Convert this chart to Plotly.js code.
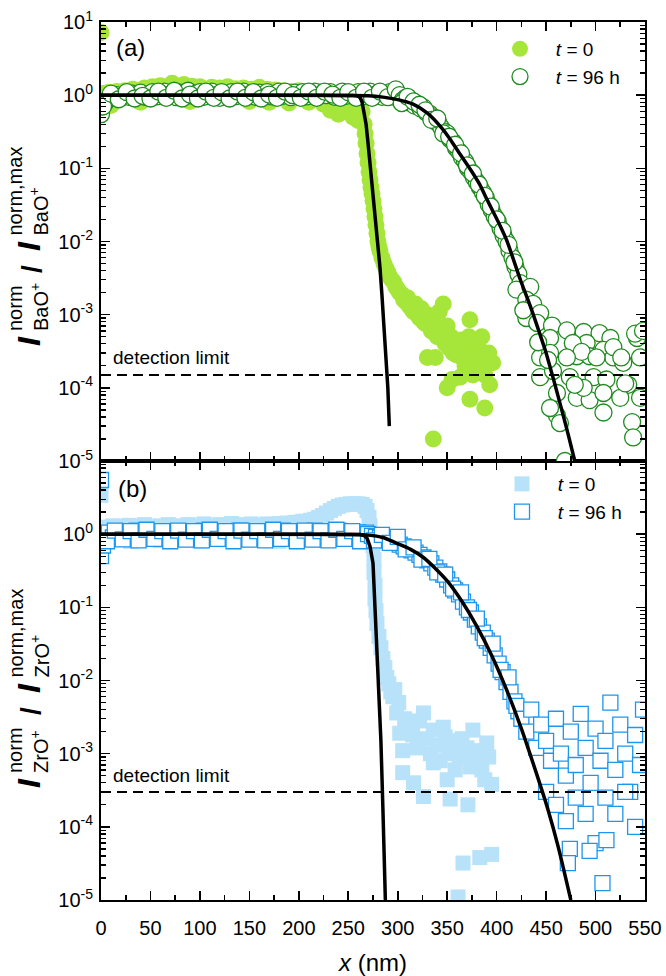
<!DOCTYPE html>
<html><head><meta charset="utf-8">
<script src="https://cdn.plot.ly/plotly-3.0.1.min.js"></script>
<style>html,body{margin:0;padding:0;background:#fff;} #chart{width:666px;height:976px;}</style>
</head><body><div id="chart"></div>
<script>
// ---------------- DATA ----------------
const xTickVals = [0,50,100,150,200,250,300,350,400,450,500,550];
const xTickText = ['0','50','100','150','200','250','300','350','400','450','500','550'];
const yTickValsTop = [1e-5,1e-4,1e-3,1e-2,1e-1,1e0,1e1];
const yTickTextTop = ['10<sup>-5</sup>','10<sup>-4</sup>','10<sup>-3</sup>','10<sup>-2</sup>','10<sup>-1</sup>','10<sup>0</sup>','10<sup>1</sup>'];
const yTickValsBot = [1e-5,1e-4,1e-3,1e-2,1e-1,1e0];
const yTickTextBot = ['10<sup>-5</sup>','10<sup>-4</sup>','10<sup>-3</sup>','10<sup>-2</sup>','10<sup>-1</sup>','10<sup>0</sup>'];

const detLimitA = 1.5e-4;
const detLimitB = 3.0e-4;

// (a) BaO+, t = 0  (filled green circles)
const aT0x = [0,2,5,8,12,16,20,24,28,32,36,40,44,48,52,56,60,64,68,72,76,80,84,88,92,96,100,104,108,112,116,120,124,128,132,136,140,144,148,152,156,160,164,168,172,176,180,184,188,192,196,200,204,208,212,216,220,224,228,232,236,240,244,248,252,256,260,
 10,40,90,150,170,190,210,225,232,240,248,255,260,
 262,264,266,267,268,269,270,271,272,273,274,275,276,277,278,279,280,281,282,284,286,288,
 290,292,294,296,298,300,302,304,306,308,310,312,314,316,318,320,322,324,326,328,330,332,334,336,338,340,342,344,346,348,350,352,354,356,358,360,362,364,366,368,370,372,374,376,378,380,382,384,388,392,396,
 330,338,350,355,363,373,376,388,393,388,336,346,373,385];
const aT0y = [7.2,1.05,0.95,1.1,1.0,1.12,1.05,1.15,1.08,1.2,1.1,1.18,1.25,1.12,1.3,1.2,1.35,1.22,1.28,1.45,1.3,1.2,1.4,1.25,1.32,1.18,1.3,1.22,1.15,1.28,1.2,1.25,1.12,1.3,1.18,1.22,1.15,1.25,1.1,1.2,1.15,1.28,1.12,1.2,1.08,1.18,1.1,1.15,1.05,1.12,1.08,1.15,1.05,1.1,1.02,1.08,1.12,1.0,1.05,1.1,1.0,1.05,0.98,1.02,0.92,0.85,0.75,
 0.72,0.8,0.82,0.82,0.8,0.78,0.8,0.75,0.62,0.55,0.6,0.5,0.45,
 0.75,0.6,0.4,0.3,0.22,0.16,0.12,0.09,0.07,0.055,0.045,0.036,0.028,0.022,0.017,0.013,0.01,0.0085,0.0075,0.006,0.005,0.0043,
 0.0038,0.0033,0.003,0.0028,0.0024,0.0022,0.002,0.0019,0.0016,0.0015,0.0017,0.0013,0.0012,0.0011,0.0014,0.001,0.0009,0.0012,0.0008,0.00075,0.001,0.0007,0.0006,0.0009,0.00055,0.0005,0.0011,0.0006,0.00045,0.0004,0.0007,0.00035,0.0005,0.0003,0.0004,0.00028,0.0003,0.00045,0.00025,0.0002,0.00035,0.0005,0.0003,0.00022,0.00028,0.0002,0.00035,0.00025,0.0002,0.0003,0.00022,0.00026,
 0.00026,0.0001,0.00013,0.00014,0.00007,0.00015,0.00015,0.00011,0.000053,0.00002,0.0014,0.00085,0.0005,0.00033];

// (a) BaO+, t = 96 h (open dark-green circles)
const aT96x = [0,4,8,12,16,20,24,28,32,36,40,44,48,52,56,60,64,68,72,76,80,84,88,92,96,100,104,108,112,116,120,124,128,132,136,140,144,148,152,156,160,164,168,172,176,180,184,188,192,196,200,204,208,212,216,220,224,228,232,236,240,244,248,252,256,260,264,268,272,276,280,284,288,292,296,300,
 2,10,18,26,34,42,50,58,66,74,82,90,98,106,114,122,130,138,146,154,162,170,178,186,194,202,210,218,226,234,242,250,258,266,274,282,290,298,
 302,305,308,311,314,317,320,323,326,329,332,335,338,341,344,347,350,353,356,359,362,365,368,371,374,377,380,383,386,389,392,395,398,401,404,407,410,413,416,419,422,
 304,310,316,322,328,334,340,346,352,358,364,370,376,382,388,394,400,406,412,418,
 424,420,434,430,437,444,430,441,456,454,471,488,504,515,491,542,545,444,454,477,481,494,508,518,528,444,457,474,498,511,533,545,461,481,494,508,525,508,461,464,537,538,469,452,442,427,
 540,548,477,486,501,518,526,530,488,454,479,471];
const aT96y = [0.55,0.78,0.9,0.95,1.0,0.92,1.02,0.95,1.05,0.98,1.08,0.95,1.02,1.1,0.96,1.04,1.12,1.0,1.06,0.94,1.08,1.0,1.15,0.98,1.05,1.1,0.95,1.04,1.12,1.0,0.92,1.06,1.0,1.1,0.97,1.04,1.12,0.98,1.06,0.95,1.08,1.02,1.1,0.96,1.04,1.12,0.98,1.05,0.94,1.08,1.0,1.1,0.96,1.04,1.12,0.98,1.06,1.0,1.1,0.95,1.04,1.12,0.98,1.06,1.0,1.1,0.96,1.04,1.12,0.98,1.06,0.95,1.04,1.1,0.95,1.05,
 0.7,1.05,0.88,1.1,0.9,0.98,0.9,1.12,0.92,1.15,0.9,1.02,0.9,1.12,0.92,1.1,0.9,1.12,0.92,1.1,0.9,1.02,0.92,1.12,1.0,0.92,1.12,0.92,1.12,1.02,0.92,1.1,0.92,1.12,0.92,1.12,0.94,1.2,
 1.0,0.85,0.92,0.8,0.85,0.72,0.76,0.66,0.68,0.58,0.56,0.5,0.44,0.42,0.36,0.32,0.3,0.25,0.23,0.19,0.17,0.14,0.125,0.1,0.09,0.075,0.065,0.055,0.047,0.04,0.032,0.027,0.022,0.019,0.015,0.012,0.01,0.0075,0.006,0.0045,0.0036,
 0.78,0.95,0.82,0.74,0.62,0.46,0.48,0.3,0.27,0.21,0.16,0.11,0.085,0.06,0.042,0.03,0.02,0.014,0.009,0.0052,
 0.0027,0.0022,0.0024,0.0016,0.0014,0.00105,0.0009,0.00077,0.00071,0.00048,0.00061,0.00058,0.00056,0.00048,0.00041,0.00048,0.00026,0.00026,0.0003,0.00028,0.00027,0.00027,0.00033,0.00026,0.00022,0.00014,0.00017,0.00014,0.00014,0.00013,0.00011,0.000073,0.000085,0.000073,0.000068,0.000085,0.000073,0.000046,0.000042,0.000033,0.000034,0.000021,0.00001,0.00024,0.00042,0.00115,
 0.00055,0.0006,0.00041,0.00031,0.00026,0.00036,0.00026,0.000115,0.0001,0.000053,0.00011,0.00026];

// (a) fit curves (black)
const aFit0x = [0,100,200,240,255,260,262,264,266,268,270,272,274,276,278,280,282,284,286,288,290,291.5];
const aFit0y = [1,1,1,1,0.99,0.97,0.93,0.8,0.6,0.4,0.22,0.12,0.065,0.035,0.018,0.009,0.0045,0.0019,0.0008,0.00032,0.0001,0.00003];
const aFit96x = [0,100,200,250,270,285,300,315,330,345,353,360,375,383,390,403,410,424,435,444,450,459,465,472,479];
const aFit96y = [1,1,1,0.99,0.98,0.94,0.87,0.76,0.57,0.35,0.25,0.18,0.09,0.06,0.038,0.017,0.0105,0.003,0.0012,0.00053,0.0003,0.00011,0.000055,0.000024,0.00001];

// (b) ZrO+, t = 0 (filled light-blue squares)
const bT0x = [0,2,4,8,12,16,20,24,28,32,36,40,44,48,52,56,60,64,68,72,76,80,84,88,92,96,100,104,108,112,116,120,124,128,132,136,140,144,148,152,156,160,164,168,172,176,180,184,188,192,196,
 200,204,208,212,216,220,224,228,232,236,240,244,248,252,256,260,264,267,269,271,
 5,30,60,100,140,180,220,250,262,
 272,274,275,276,276,277,277,278,279,281,283,285,287,289,291,293,295,
 297,299,302,305,305,316,326,326,336,346,336,350,353,360,370,376,373,371,390,388,366,383,395,361,
 310,315,320,322,330,333,340,343,348,352,355,358,362,365,368,378,382,385,392,395,301,307];
const bT0y = [3.4,1.1,1.25,1.2,1.3,1.15,1.28,1.2,1.32,1.18,1.3,1.22,1.35,1.2,1.28,1.15,1.3,1.22,1.35,1.25,1.3,1.18,1.28,1.35,1.2,1.3,1.25,1.38,1.22,1.3,1.2,1.35,1.25,1.3,1.4,1.28,1.35,1.22,1.3,1.38,1.25,1.32,1.28,1.38,1.3,1.35,1.4,1.32,1.42,1.38,1.45,
 1.45,1.5,1.5,1.55,1.6,1.7,1.8,1.95,2.1,2.25,2.4,2.5,2.55,2.6,2.6,2.6,2.55,2.4,2.1,1.7,
 0.85,0.8,0.82,0.8,0.82,0.8,0.82,0.85,0.9,
 1.3,1.0,0.7,0.45,0.3,0.2,0.13,0.09,0.06,0.04,0.028,0.02,0.015,0.011,0.009,0.007,0.006,
 0.0075,0.0036,0.0019,0.0011,0.00055,0.0004,0.00026,0.0036,0.0021,0.0023,0.00075,0.00044,0.00024,0.0015,0.0012,0.0021,0.00066,0.0002,0.0014,0.00044,0.000032,0.000038,0.000042,0.000011,
 0.0025,0.0018,0.0012,0.0028,0.0016,0.001,0.0013,0.0008,0.0017,0.001,0.0013,0.0006,0.0009,0.0016,0.001,0.0009,0.0011,0.0006,0.0009,0.00038,0.005,0.003];

// (b) ZrO+, t = 96 h (open blue squares)
const bT96x = [0,0,2,4,8,12,16,20,24,28,32,36,40,44,48,52,56,60,64,68,72,76,80,84,88,92,96,100,104,108,112,116,120,124,128,132,136,140,144,148,152,156,160,164,168,172,176,180,184,188,192,196,200,204,208,212,216,220,224,228,232,236,240,244,248,252,256,260,264,268,
 6,14,22,30,38,46,54,62,70,78,86,94,102,110,118,126,134,142,150,158,166,174,182,190,198,206,214,222,230,238,246,254,262,270,
 274,278,282,286,290,294,298,302,306,310,314,318,322,326,330,334,338,342,346,350,354,358,362,366,370,374,378,382,386,390,394,398,402,406,410,414,418,422,
 276,284,292,300,308,316,324,332,340,348,356,364,372,380,388,396,404,412,420,
 425,430,435,440,445,450,455,460,465,470,475,480,485,490,495,500,505,510,515,520,525,530,535,540,545,548,450,460,470,480,490,500,510,520,530,540,474,472,494,507,511];
const bT96y = [5.5,0.5,0.7,0.95,1.05,0.9,1.1,1.0,0.88,1.08,0.97,1.12,0.92,1.02,0.86,1.06,0.98,1.1,0.9,1.04,0.95,1.08,0.88,1.1,1.0,0.92,1.06,0.97,1.12,0.9,1.04,0.96,1.1,0.88,1.02,1.08,0.94,1.12,0.98,0.9,1.06,1.0,1.1,0.92,1.04,0.88,1.08,0.98,1.12,0.94,1.02,0.9,1.1,0.96,1.06,0.9,1.12,1.0,0.94,1.08,0.9,1.04,1.12,0.96,1.0,1.1,0.92,1.06,0.98,1.05,
 0.8,1.12,0.85,1.1,0.82,1.15,0.86,1.1,0.8,1.12,0.84,1.1,0.82,1.15,0.86,1.1,0.8,1.12,0.84,1.1,0.82,1.15,0.86,1.1,0.8,1.12,0.84,1.1,0.82,1.15,0.86,1.1,0.8,1.0,
 0.95,0.92,0.9,0.88,0.82,0.8,0.76,0.72,0.68,0.64,0.6,0.56,0.52,0.48,0.44,0.4,0.35,0.31,0.28,0.24,0.2,0.17,0.15,0.12,0.1,0.085,0.068,0.055,0.045,0.035,0.028,0.022,0.017,0.013,0.0095,0.007,0.0052,0.0038,
 0.82,0.98,0.76,0.92,0.62,0.66,0.45,0.46,0.3,0.28,0.18,0.16,0.092,0.07,0.038,0.032,0.014,0.011,0.0045,
 0.003,0.002,0.004,0.0012,0.0025,0.0015,0.0008,0.003,0.001,0.0005,0.002,0.0007,0.0035,0.0012,0.0004,0.0022,0.0008,0.0015,0.005,0.0006,0.0025,0.001,0.0003,0.0018,0.0007,0.004,0.0003,0.0002,0.00012,0.00025,0.00015,0.00006,0.00025,0.00015,0.0003,0.0001,0.00005,0.000032,0.000047,0.000017,0.000066];

// (b) fit curves (black)
const bFit0x = [0,100,200,250,262,266,269,272,275,277,279,281,283,285,287,287.5];
const bFit0y = [1,1,1,1,0.99,0.96,0.88,0.68,0.4,0.1,0.025,0.008,0.0015,0.00018,0.00002,0.00001];
const bFit96x = [0,100,200,250,270,285,299,313,326,338,350,365,380,395,410,425,440,452,462,475];
const bFit96y = [1,1,1,0.99,0.97,0.9,0.75,0.62,0.48,0.34,0.23,0.12,0.055,0.022,0.0075,0.0022,0.00055,0.00017,0.000055,0.00001];

// ---------------- STYLE ----------------
const FONT = 'Liberation Sans, Arial, sans-serif';
const cGreenFill = '#a6e63a';
const cGreenLine = '#1f8a1f';
const cBlueFill = '#b7e2fa';
const cBlueLine = '#1e96ec';

const xMinor = []; for (let v = 25; v < 550; v += 50) xMinor.push(v);
const yMinor = []; for (let e = -5; e < 1; e++) for (let d = 2; d <= 9; d++) yMinor.push(d * Math.pow(10, e));

function xAxis(extra) {
  return Object.assign({
    range: [0, 550], tickmode: 'array', tickvals: xTickVals, ticktext: xTickText,
    ticks: 'inside', ticklen: 9, tickwidth: 1.6, tickcolor: '#000',
    showline: true, linewidth: 2, linecolor: '#000', mirror: 'allticks',
    showgrid: false, zeroline: false,
    minor: {ticks: 'inside', ticklen: 5, tickwidth: 1.6, tickcolor: '#000', tickmode: 'array', tickvals: xMinor, showgrid: false},
    tickfont: {family: FONT, size: 20, color: '#000'}, ticklabelstandoff: 9
  }, extra);
}
function yAxis(vals, text, extra) {
  return Object.assign({
    type: 'log', range: [-5, 1], tickmode: 'array', tickvals: vals, ticktext: text,
    ticks: 'inside', ticklen: 9, tickwidth: 1.6, tickcolor: '#000',
    showline: true, linewidth: 2, linecolor: '#000', mirror: 'allticks',
    showgrid: false, zeroline: false,
    minor: {ticks: 'inside', ticklen: 5, tickwidth: 1.3, tickcolor: '#000', tickmode: 'array', tickvals: yMinor, showgrid: false},
    tickfont: {family: FONT, size: 20, color: '#000'}, ticklabelstandoff: 2
  }, extra);
}

const NB = '\u00a0\u00a0\u00a0';
const traces = [
  {x: aT0x, y: aT0y, xaxis: 'x2', yaxis: 'y2', mode: 'markers', type: 'scatter', name: NB + '<i>t</i> = 0', legend: 'legend',
   marker: {symbol: 'circle', size: 17, color: cGreenFill, line: {width: 0}}},
  {x: aT96x, y: aT96y, xaxis: 'x2', yaxis: 'y2', mode: 'markers', type: 'scatter', name: NB + '<i>t</i> = 96 h', legend: 'legend',
   marker: {symbol: 'circle', size: 17, color: '#ffffff', line: {width: 1.3, color: cGreenLine}}},
  {x: aFit0x, y: aFit0y, xaxis: 'x2', yaxis: 'y2', mode: 'lines', type: 'scatter', showlegend: false,
   line: {color: '#000', width: 3.5}},
  {x: aFit96x, y: aFit96y, xaxis: 'x2', yaxis: 'y2', mode: 'lines', type: 'scatter', showlegend: false,
   line: {color: '#000', width: 3.5, shape: 'spline', smoothing: 0.8}},
  {x: [0, 550], y: [detLimitA, detLimitA], xaxis: 'x2', yaxis: 'y2', mode: 'lines', type: 'scatter', showlegend: false,
   line: {color: '#000', width: 2, dash: '10px,6px'}},

  {x: bT0x, y: bT0y, xaxis: 'x', yaxis: 'y', mode: 'markers', type: 'scatter', name: NB + '<i>t</i> = 0', legend: 'legend2',
   marker: {symbol: 'square', size: 15, color: cBlueFill, line: {width: 0}}},
  {x: bT96x, y: bT96y, xaxis: 'x', yaxis: 'y', mode: 'markers', type: 'scatter', name: NB + '<i>t</i> = 96 h', legend: 'legend2',
   marker: {symbol: 'square', size: 15, color: '#ffffff', line: {width: 1.3, color: cBlueLine}}},
  {x: bFit0x, y: bFit0y, xaxis: 'x', yaxis: 'y', mode: 'lines', type: 'scatter', showlegend: false,
   line: {color: '#000', width: 3.5}},
  {x: bFit96x, y: bFit96y, xaxis: 'x', yaxis: 'y', mode: 'lines', type: 'scatter', showlegend: false,
   line: {color: '#000', width: 3.5, shape: 'spline', smoothing: 0.8}},
  {x: [0, 550], y: [detLimitB, detLimitB], xaxis: 'x', yaxis: 'y', mode: 'lines', type: 'scatter', showlegend: false,
   line: {color: '#000', width: 2, dash: '10px,6px'}}
];

// pixel helpers for annotation placement
const L = 101, T = 22, W = 544, H = 878;
const px = p => (p - L) / W;
const py = p => (T + H - p) / H;

function yLabel(species, bottomPx) {
  const parts = [
    {t: '<b><i>I</i></b>', s: 32, x: 29, b: bottomPx},
    {t: 'norm<br>' + species + '<sup>+</sup>', s: 20, x: 28, b: bottomPx - 15},
    {t: '<b>/</b>', s: 28, x: 31, b: bottomPx - 73},
    {t: '<b><i>I</i></b>', s: 32, x: 29, b: bottomPx - 95},
    {t: 'norm,max<br>' + species + '<sup>+</sup>', s: 20, x: 28, b: bottomPx - 110}
  ];
  return parts.map(p => ({
    text: p.t, xref: 'paper', yref: 'paper', x: px(p.x), y: py(p.b),
    xanchor: 'center', yanchor: 'bottom', textangle: -90, showarrow: false, align: 'left',
    font: {family: FONT, size: p.s, color: '#000'}
  }));
}

const annotations = [
  {text: '(a)', xref: 'paper', yref: 'paper', x: px(114), y: py(47), xanchor: 'left', yanchor: 'middle', showarrow: false, font: {family: FONT, size: 24, color: '#000'}},
  {text: '(b)', xref: 'paper', yref: 'paper', x: px(116), y: py(488), xanchor: 'left', yanchor: 'middle', showarrow: false, font: {family: FONT, size: 24, color: '#000'}},
  {text: 'detection limit', xref: 'paper', yref: 'paper', x: px(111), y: py(358), xanchor: 'left', yanchor: 'middle', showarrow: false, font: {family: FONT, size: 19, color: '#000'}},
  {text: 'detection limit', xref: 'paper', yref: 'paper', x: px(111), y: py(775), xanchor: 'left', yanchor: 'middle', showarrow: false, font: {family: FONT, size: 19, color: '#000'}}
].concat(yLabel('BaO', 348)).concat(yLabel('ZrO', 790));

const layout = {
  width: 666, height: 976,
  margin: {l: L, r: 666 - L - W, t: T, b: 976 - T - H, pad: 0},
  paper_bgcolor: '#fff', plot_bgcolor: '#fff',
  font: {family: FONT, color: '#000'},
  xaxis: xAxis({anchor: 'y', title: {text: '<i>x</i> (nm)', font: {family: FONT, size: 24, color: '#000'}, standoff: 16}}),
  xaxis2: xAxis({anchor: 'y2', matches: 'x', showticklabels: false}),
  yaxis: yAxis(yTickValsBot, yTickTextBot, {domain: [0, 0.5], anchor: 'x'}),
  yaxis2: yAxis(yTickValsTop, yTickTextTop, {domain: [0.5, 1], anchor: 'x2'}),
  legend: {x: px(500), y: py(30), xanchor: 'left', yanchor: 'top', bgcolor: 'rgba(0,0,0,0)', font: {family: FONT, size: 19, color: '#000'}, itemsizing: 'trimmed'},
  legend2: {x: px(502), y: py(465), xanchor: 'left', yanchor: 'top', bgcolor: 'rgba(0,0,0,0)', font: {family: FONT, size: 19, color: '#000'}, itemsizing: 'trimmed'},
  annotations: annotations,
  showlegend: true
};

Plotly.newPlot('chart', traces, layout, {displayModeBar: false, staticPlot: true});
</script></body></html>
